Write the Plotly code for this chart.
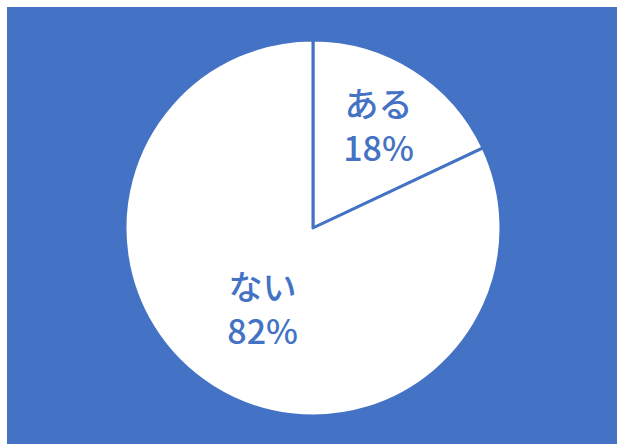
import plotly.graph_objects as go

labels = ["ある", "ない"]
values = [18, 82]

BLUE = "#4472C4"

fig = go.Figure(go.Pie(
    labels=labels,
    values=values,
    sort=False,
    direction="clockwise",
    rotation=0,
    marker=dict(colors=["white", "white"], line=dict(color=BLUE, width=3)),
    texttemplate="%{label}<br>%{percent:.0%}",
    textposition="inside",
    insidetextorientation="horizontal",
    textfont=dict(family="Noto Sans CJK JP", size=34, color=BLUE, weight=500),
    domain=dict(x=[0.1934, 0.8098], y=[0.064, 0.9245]),
    hoverinfo="skip",
    showlegend=False,
))

fig.update_layout(
    width=617, height=444,
    margin=dict(l=7, t=7, r=0, b=0),
    paper_bgcolor="white",
    shapes=[dict(type="rect", xref="paper", yref="paper", x0=0, x1=1, y0=0, y1=1,
                 fillcolor=BLUE, line=dict(width=0), layer="below")],
)

fig.write_html(
    "out.html",
    config={"displayModeBar": False},
    post_script="document.body.style.margin='0';document.body.style.overflow='hidden';",
)
